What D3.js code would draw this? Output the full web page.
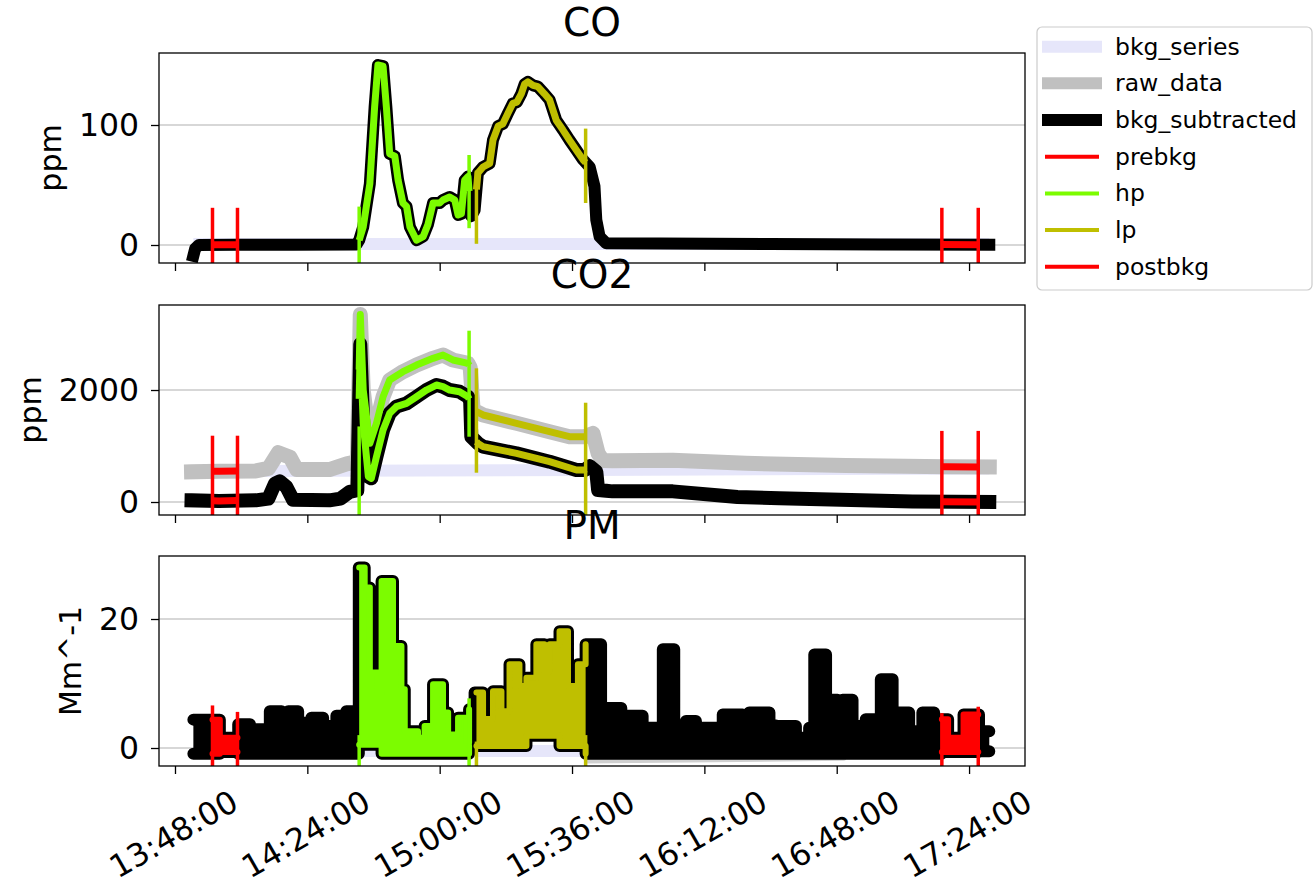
<!DOCTYPE html>
<html><head><meta charset="utf-8">
<script src="https://cdn.jsdelivr.net/npm/d3@7"></script>
<style>html,body{margin:0;padding:0;background:#fff;} svg{display:block;font-family:"DejaVu Sans",sans-serif;}</style>
</head><body><svg id="c" width="1316" height="884"></svg>
<script>
// ---------------- data ----------------
const xTickLabels = ["13:48:00","14:24:00","15:00:00","15:36:00","16:12:00","16:48:00","17:24:00"];

// CO (bkg_subtracted ~ raw)
const coTime = ["13:53:00","13:53:30","13:54:30","14:05:00","14:20:00","14:37:24","14:38:06","14:39:12","14:41:00","14:42:18","14:43:12","14:44:36","14:45:30","14:46:24","14:47:48","14:48:42","14:50:00","14:51:00","14:51:54","14:53:42","14:55:30","14:56:48","14:58:12","15:00:00","15:00:54","15:02:42","15:04:06","15:05:00","15:05:54","15:06:48","15:07:42","15:08:00","15:08:36","15:09:30","15:10:24","15:11:48","15:13:36","15:14:30","15:15:54","15:17:12","15:18:36","15:19:54","15:21:00","15:22:12","15:23:06","15:24:00","15:25:24","15:26:42","15:28:30","15:29:54","15:31:42","15:33:30","15:35:18","15:37:12","15:39:00","15:40:48","15:42:06","15:42:36","15:43:30","15:45:18","16:00:00","16:30:00","17:00:00","17:29:30"];
const coSub = [-9,-3,0,0.3,0.3,0.5,4,15,51,115,150,149,115,76,74,54,35,32,15,4,7,17,35,35,37.5,40,37.5,25,26,54,57,45,24,29,60,65,68,87.5,99,101,110,118,119,126,134,136,133,132,126,121,104,96,87.5,79,71,65,49,21,7,1.4,1.2,0.8,0.4,0.3];
const coBkgTime = ["13:53:00","17:29:30"];
const coBkg = [0.8, 0.8];

// CO2
const co2SubTime = ["13:52:30","14:00:00","14:10:00","14:13:24","14:15:12","14:16:30","14:18:18","14:20:06","14:30:00","14:33:00","14:35:30","14:37:36","14:38:24","14:39:12","14:40:36","14:41:24","14:42:48","14:44:36","14:46:24","14:48:12","14:51:00","14:53:42","14:56:24","14:59:06","15:00:54","15:02:42","15:05:24","15:07:42","15:08:18","15:08:36","15:10:24","15:11:48","15:20:54","15:29:54","15:37:12","15:39:24","15:40:48","15:42:36","15:43:06","15:45:18","15:47:00","16:03:24","16:21:00","16:32:24","17:08:36","17:29:30"];
const co2Sub = [30,20,30,60,330,370,270,40,30,60,180,210,2820,1405,452,423,809,1286,1584,1702,1762,1880,2000,2089,2060,2000,1970,1880,1800,1166,1048,988,869,720,571,571,640,541,214,200,190,190,90,66,10,0];
const co2RawTime = ["13:52:30","14:00:00","14:10:00","14:13:24","14:16:06","14:19:18","14:21:06","14:30:00","14:34:42","14:37:36","14:38:24","14:39:12","14:41:00","14:42:48","14:44:36","14:46:24","14:50:00","14:53:42","14:58:12","15:00:54","15:03:36","15:07:42","15:08:18","15:09:06","15:11:48","15:20:54","15:29:54","15:35:18","15:39:24","15:41:42","15:43:06","15:44:24","15:47:00","16:03:24","16:23:18","16:50:30","17:17:36","17:29:30"];
const co2Raw = [540,550,555,600,880,800,580,580,680,720,3350,2000,1048,1405,1880,2179,2327,2446,2566,2625,2536,2477,2400,1643,1554,1405,1255,1166,1166,1226,869,740,735,745,690,650,631,625];
const co2BkgTime = ["13:52:30","15:40:00","17:29:30"];
const co2Bkg = [550, 571, 600];

// PM (dense signal: upper / lower envelope of the trace)
const pmTime = ["13:53:00","14:00:12","14:05:12","14:08:24","14:13:48","14:17:00","14:18:48","14:21:30","14:25:06","14:28:18","14:31:54","14:34:36","14:38:00","14:39:36","14:41:00","14:43:12","14:44:12","14:47:18","14:49:36","14:50:30","14:54:06","14:55:54","14:58:12","15:00:54","15:02:18","15:05:00","15:07:18","15:08:00","15:09:30","15:11:48","15:14:30","15:16:48","15:19:00","15:21:42","15:23:36","15:26:18","15:28:30","15:29:54","15:32:36","15:34:54","15:37:36","15:39:42","15:43:54","15:49:24","15:51:12","15:55:12","15:56:36","15:59:48","16:00:42","16:03:48","16:07:00","16:09:42","16:11:30","16:17:00","16:22:24","16:24:12","16:29:42","16:31:30","16:36:54","16:40:30","16:41:54","16:45:06","16:48:12","16:49:36","16:52:18","16:55:54","16:59:06","17:00:00","17:03:12","17:07:42","17:11:18","17:14:30","17:16:30","17:18:18","17:22:30","17:26:42","17:29:30"];
const pmHi = [4.4,1.6,3.7,2.9,5.7,2.9,5.7,3.9,4.7,3.4,5.0,5.7,28.0,24.9,11.7,8.6,25.9,15.8,9.1,2.6,1.6,3.4,9.9,5.5,2.1,4.7,0.8,6.0,8.6,4.5,8.8,5.7,13.0,9.6,10.9,16.1,11.9,16.1,18.1,9.6,13.0,16.1,6.2,4.0,5.0,2.1,3.15,2.1,15.3,2.1,4.2,1.5,3.15,5.2,3.5,5.5,3.5,3.4,1.6,3.15,14.5,7.5,3.15,7.5,3.4,4.45,3.4,10.65,5.5,2.6,5.5,3.0,4.45,1.6,5.2,2.6,2.6];
const pmLo = [-0.9,-0.6,-0.9,-0.9,-0.9,-0.9,-0.9,-0.9,-0.9,-0.9,-0.9,-0.9,0.5,0.5,0.5,0.5,-0.9,-0.9,-0.9,-0.9,-0.9,-0.9,-0.9,-0.9,-0.9,-0.9,-0.9,0.3,0.3,0.3,0.3,0.3,0.3,0.3,1.9,1.9,1.9,1.9,0.3,0.3,0.3,-0.9,-0.9,-0.9,-0.9,-0.9,-0.9,-0.9,-0.9,-0.9,-0.9,-0.9,-0.9,-0.9,-0.9,-0.9,-0.9,-0.9,-0.9,-0.9,-0.9,-0.9,-0.9,-0.9,-0.9,-0.9,-0.9,-0.9,-0.9,-0.9,-0.9,-0.9,-0.6,-0.6,-0.6,-0.5,-0.5];
const pmBkgTime = ["13:53:00","17:29:30"];
const pmBkg = [-0.45, -0.45];
const pmRawTime = ["15:40:00","16:50:00"];
const pmRaw = [-2.0, -1.6];

// periods
const periodNames = ["prebkg","hp","lp","postbkg"];
const periodStart = ["13:58:12","14:38:06","15:10:00","17:16:36"];
const periodEnd   = ["14:05:00","15:08:00","15:39:42","17:26:30"];
const periodColors = ["#ff0000","#7cfc00","#bfbf00","#ff0000"];

// vertical markers: [start, end] of each period, lower/upper extents per panel
const coMarkLo  = [-20,-20,-20,14,1,35,-20,-20];
const coMarkHi  = [31,31,32,75,62,97,31,31];
const co2MarkLo = [-300,-300,-300,1166,523,-300,-300,-300];
const co2MarkHi = [1184,1184,1350,3059,2387,1773,1270,1270];
const pmMarkLo  = [-3,-3,-3,-3,-3,-3,-3,-3];
const pmMarkHi  = [6.6,5.6,2,7.7,1,2,5.4,6.4];

const legendLabels = ["bkg_series","raw_data","bkg_subtracted","prebkg","hp","lp","postbkg"];

// ---------------- helpers ----------------
const parseT = s => { const p = s.split(":").map(Number); return new Date(Date.UTC(2020,0,1,p[0],p[1],p[2]||0)); };
const pts = (T, V) => T.map((t,i) => ({t: parseT(t), v: V[i]}));
function valLin(P, t) {
  if (t <= +P[0].t) return P[0].v;
  for (let i=0;i<P.length-1;i++) {
    const a=+P[i].t, b=+P[i+1].t;
    if (t>=a && t<=b) return P[i].v + (P[i+1].v-P[i].v)*(t-a)/(b-a||1);
  }
  return P[P.length-1].v;
}
function segLinear(P, a, b) {
  const ta=+parseT(a), tb=+parseT(b);
  return [{t:new Date(ta), v:valLin(P,ta)}, ...P.filter(p=>+p.t>ta && +p.t<tb), {t:new Date(tb), v:valLin(P,tb)}];
}
function stepAt(P, t) { let r=P[0]; for (const p of P) if (+p.t<=t) r=p; return r; }
function segStep(P, a, b) {
  const ta=+parseT(a), tb=+parseT(b);
  const s=stepAt(P,ta), e=stepAt(P,tb);
  return [{t:new Date(ta), hi:s.hi, lo:s.lo}, ...P.filter(p=>+p.t>ta && +p.t<tb), {t:new Date(tb), hi:e.hi, lo:e.lo}];
}

// ---------------- layout ----------------
const svg = d3.select("#c");
const X0 = 159, X1 = 1025, H = 210;
const FONT = '"DejaVu Sans", sans-serif';
const x = d3.scaleUtc().domain([parseT("13:43:39"), parseT("17:39:13")]).range([X0, X1]);
const markTimes = [];
periodStart.forEach((s,i)=>{ markTimes.push({t:s, c:periodColors[i]}); markTimes.push({t:periodEnd[i], c:periodColors[i]}); });

const panels = [
  {key:"co",  top:53,  domain:[-15,160],      ticks:[0,100],  title:"CO",  ylabel:"ppm",   markLo:coMarkLo,  markHi:coMarkHi},
  {key:"co2", top:305, domain:[-232,3518],    ticks:[0,2000], title:"CO2", ylabel:"ppm",   markLo:co2MarkLo, markHi:co2MarkHi},
  {key:"pm",  top:556, domain:[-2.79,29.77],  ticks:[0,20],   title:"PM",  ylabel:"Mm^-1", markLo:pmMarkLo,  markHi:pmMarkHi}
];

panels.forEach((p, pi) => {
  const y = d3.scaleLinear().domain(p.domain).range([p.top+H, p.top]);
  const g = svg.append("g");
  svg.append("clipPath").attr("id","clip-"+p.key).append("rect")
    .attr("x",X0).attr("y",p.top).attr("width",X1-X0).attr("height",H);
  // grid
  g.selectAll(".grid").data(p.ticks).enter().append("line")
    .attr("x1",X0).attr("x2",X1).attr("y1",d=>y(d)).attr("y2",d=>y(d))
    .attr("stroke","#b0b0b0").attr("stroke-width",1.2);
  const dg = g.append("g").attr("clip-path","url(#clip-"+p.key+")");
  const line = d3.line().x(d=>x(d.t)).y(d=>y(d.v));
  const drawLine = (data, color, w, cap) => dg.append("path").datum(data).attr("d",line)
      .attr("fill","none").attr("stroke",color).attr("stroke-width",w)
      .attr("stroke-linejoin","round").attr("stroke-linecap",cap||"square");

  if (p.key === "co") {
    const sub = pts(coTime, coSub);
    drawLine(pts(coBkgTime, coBkg), "#e6e6fa", 12, "butt");
    drawLine(sub, "#000", 12);
    periodStart.forEach((s,i)=> drawLine(segLinear(sub, s, periodEnd[i]), periodColors[i], 7, "butt"));
  } else if (p.key === "co2") {
    const sub = pts(co2SubTime, co2Sub), raw = pts(co2RawTime, co2Raw);
    drawLine(pts(co2BkgTime, co2Bkg), "#e6e6fa", 12, "butt");
    drawLine(raw, "#c0c0c0", 15);
    drawLine(sub, "#000", 14);
    periodStart.forEach((s,i)=> {
      drawLine(segLinear(raw, s, periodEnd[i]), periodColors[i], 7, "butt");
      drawLine(segLinear(sub, s, periodEnd[i]), periodColors[i], 7, "butt");
    });
  } else {
    const P = pmTime.map((t,i)=>({t:parseT(t), hi:pmHi[i], lo:pmLo[i]}));
    const area = d3.area().x(d=>x(d.t)).y0(d=>y(d.lo)).y1(d=>y(d.hi)).curve(d3.curveStepAfter);
    const hiL = d3.line().x(d=>x(d.t)).y(d=>y(d.hi)).curve(d3.curveStepAfter);
    const loL = d3.line().x(d=>x(d.t)).y(d=>y(d.lo)).curve(d3.curveStepAfter);
    drawLine(pts(pmBkgTime, pmBkg), "#e6e6fa", 12, "butt");
    drawLine(pts(pmRawTime, pmRaw), "#d0d0d0", 5, "round");
    const drawEnv = (data, color, w) => {
      dg.append("path").datum(data).attr("d",area).attr("fill",color);
      [hiL, loL].forEach(gen => dg.append("path").datum(data).attr("d",gen).attr("fill","none")
        .attr("stroke",color).attr("stroke-width",w).attr("stroke-linejoin","round").attr("stroke-linecap","round"));
    };
    drawEnv(P, "#000", 12);
    periodStart.forEach((s,i)=> drawEnv(segStep(P, s, periodEnd[i]), periodColors[i], 6));
  }
  // vertical markers
  dg.selectAll(".mk").data(markTimes).enter().append("line")
    .attr("x1",d=>x(parseT(d.t))).attr("x2",d=>x(parseT(d.t)))
    .attr("y1",(d,i)=>y(p.markLo[i])).attr("y2",(d,i)=>y(p.markHi[i]))
    .attr("stroke",d=>d.c).attr("stroke-width",3.5);

  // y axis
  const ya = g.append("g").attr("transform",`translate(${X0},0)`)
    .call(d3.axisLeft(y).tickValues(p.ticks).tickSize(8).tickPadding(12).tickFormat(d3.format("d")));
  ya.select(".domain").remove();
  ya.selectAll("line").attr("stroke","#000").attr("stroke-width",1.3);
  ya.selectAll("text").attr("font-size","31.5px").attr("fill","#000").attr("font-family",FONT);
  // x axis
  const xa = g.append("g").attr("transform",`translate(0,${p.top+H})`)
    .call(d3.axisBottom(x).tickValues(xTickLabels.map(parseT)).tickSize(8)
      .tickFormat((d,i)=> pi===2 ? xTickLabels[i] : ""));
  xa.select(".domain").remove();
  xa.selectAll("line").attr("stroke","#000").attr("stroke-width",1.3);
  xa.selectAll("text").attr("font-size","31.5px").attr("fill","#000").attr("font-family",FONT)
    .attr("y",0).attr("dy","0.35em").attr("text-anchor","middle")
    .attr("transform",`translate(-2,${834-(p.top+H)}) rotate(-30)`);
  // spines
  g.append("rect").attr("x",X0).attr("y",p.top).attr("width",X1-X0).attr("height",H)
    .attr("fill","none").attr("stroke","#000").attr("stroke-width",1.3);
  // y label
  const bb = ya.node().getBBox();
  const bx = bb.x + X0 - 18;
  g.append("text").attr("transform",`translate(${bx},${p.top+H/2}) rotate(-90)`)
    .attr("text-anchor","middle").attr("font-size","30px").attr("fill","#000").text(p.ylabel);
  // title
  g.append("text").attr("x",(X0+X1)/2).attr("y",p.top-17).attr("text-anchor","middle")
    .attr("font-size","39px").attr("fill","#000").text(p.title);
});

// ---------------- legend ----------------
const lg = svg.append("g");
lg.append("rect").attr("x",1037).attr("y",27).attr("width",275).attr("height",263).attr("rx",5)
  .attr("fill","#fff").attr("fill-opacity",0.8).attr("stroke","#cccccc").attr("stroke-width",1.2);
const legStyle = [
  {c:"#e6e6fa", w:12, x1:1042, x2:1102},
  {c:"#c0c0c0", w:12, x1:1042, x2:1102},
  {c:"#000",    w:12, x1:1042, x2:1102},
  {c:periodColors[0], w:4, x1:1045, x2:1099},
  {c:periodColors[1], w:4, x1:1045, x2:1099},
  {c:periodColors[2], w:4, x1:1045, x2:1099},
  {c:periodColors[3], w:4, x1:1045, x2:1099}
];
legendLabels.forEach((lab,i)=>{
  const cy = 46.7 + i*36.67;
  const s = legStyle[i];
  lg.append("line").attr("x1",s.x1).attr("x2",s.x2).attr("y1",cy).attr("y2",cy)
    .attr("stroke",s.c).attr("stroke-width",s.w);
  lg.append("text").attr("x",1115).attr("y",cy+8).attr("font-size","23.5px").attr("fill","#000").text(lab);
});
</script></body></html>
